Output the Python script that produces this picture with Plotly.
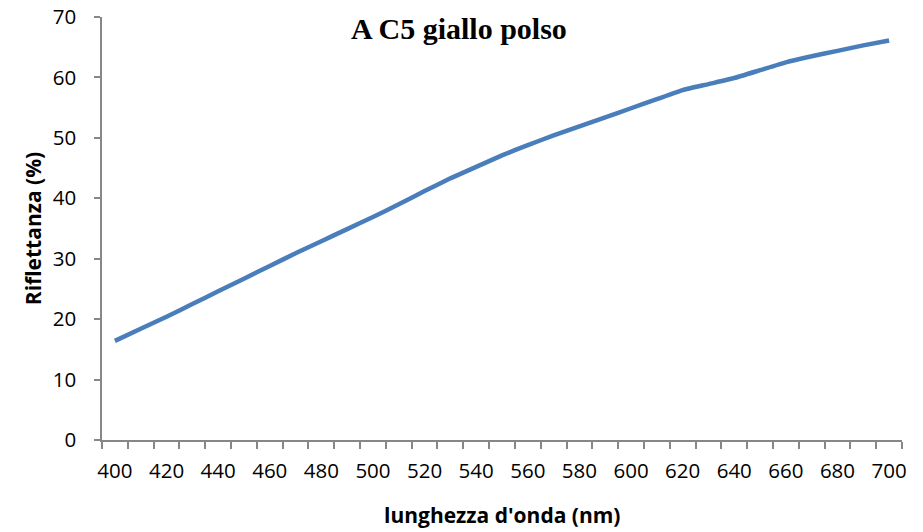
import plotly.graph_objects as go

wavelength = [400, 410, 420, 430, 440, 450, 460, 470, 480, 490, 500, 510, 520, 530, 540,
              550, 560, 570, 580, 590, 600, 610, 620, 630, 640, 650, 660, 670, 680, 690, 700]
reflectance = [16.4, 18.4, 20.4, 22.5, 24.6, 26.7, 28.8, 30.9, 32.9, 34.9, 36.9, 39.0, 41.2, 43.3, 45.2,
               47.1, 48.8, 50.4, 51.9, 53.4, 54.9, 56.4, 57.9, 58.9, 59.9, 61.2, 62.5, 63.5, 64.4, 65.3, 66.1]
x_tick_labels = [400, 420, 440, 460, 480, 500, 520, 540, 560, 580, 600, 620, 640, 660, 680, 700]
y_ticks = [0, 10, 20, 30, 40, 50, 60, 70]

title_text = "A C5 giallo polso"
x_title = "lunghezza d'onda (nm)"
y_title = "Riflettanza (%)"

fig = go.Figure()
fig.add_trace(go.Scatter(
    x=wavelength, y=reflectance, mode="lines",
    line=dict(color="#4A7EBB", width=4.5, shape="spline", smoothing=0.4),
    showlegend=False, hoverinfo="x+y",
))

axis_color = "#878787"
tick_font = dict(family="Open Sans, Lato, sans-serif", size=20.5, color="#000000")
title_font = dict(family="Open Sans, Lato, sans-serif", size=21, color="#000000")

fig.update_layout(
    width=923, height=532,
    margin=dict(l=102, r=21, t=17, b=92),
    paper_bgcolor="white", plot_bgcolor="white",
    annotations=[
        dict(
            text="<b>" + title_text + "</b>", x=(458.5 - 102) / 800.0, xref="paper",
            y=1.0 - (28 - 17) / 423.0, yref="paper",
            xanchor="center", yanchor="middle", showarrow=False,
            font=dict(family="Liberation Serif, Times New Roman, serif", size=30, color="#000000"),
        ),
        dict(
            text="<b>" + x_title + "</b>", x=0.5, xref="paper",
            y=-(515 - 440) / 423.0, yref="paper",
            xanchor="center", yanchor="middle", showarrow=False,
            font=title_font,
        ),
    ],
)

fig.update_xaxes(
    range=[395, 705], tickmode="array", tickvals=x_tick_labels,
    ticktext=[str(v) for v in x_tick_labels],
    ticks="", showgrid=False, zeroline=False, automargin=False,
    showline=True, linecolor=axis_color, linewidth=1.5,
    tickfont=tick_font, ticklabelstandoff=12,
    minor=dict(tickmode="linear", tick0=395, dtick=10, ticks="outside",
               ticklen=7, tickcolor=axis_color, tickwidth=1.5, showgrid=False),
)
fig.update_yaxes(
    range=[0, 70], tickmode="array", tickvals=y_ticks,
    ticks="outside", ticklen=6, tickcolor=axis_color, tickwidth=1.5,
    showgrid=False, zeroline=False, automargin="left",
    showline=True, linecolor=axis_color, linewidth=1.5,
    tickfont=tick_font, ticklabelstandoff=14,
    title=dict(text="<b>" + y_title + "</b>", standoff=5, font=title_font),
)

fig.write_html("out.html", config={"displayModeBar": False},
               post_script="document.body.style.margin='0';")
